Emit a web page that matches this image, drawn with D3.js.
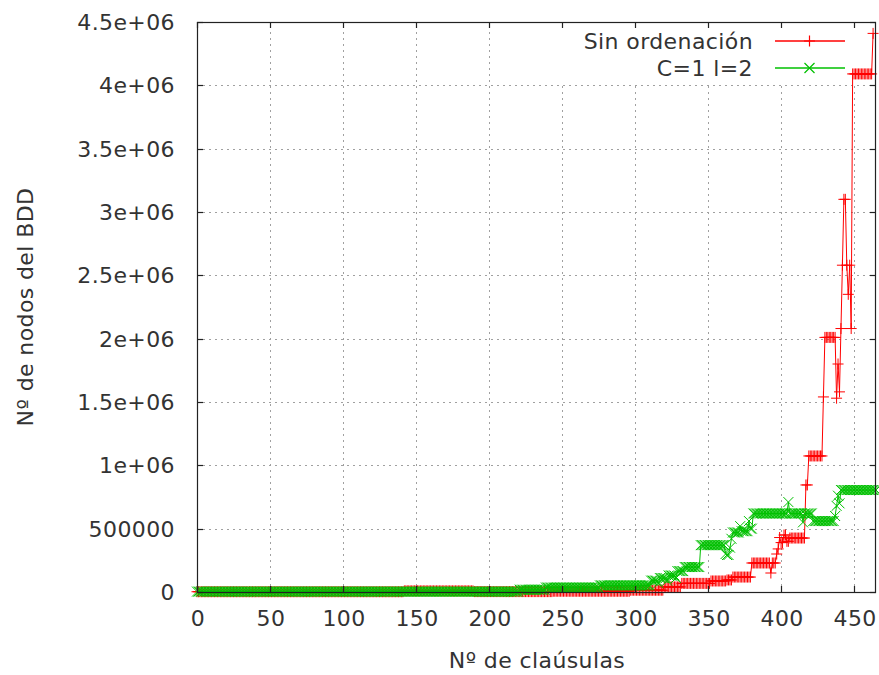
<!DOCTYPE html>
<html>
<head>
<meta charset="utf-8">
<script src="https://cdn.jsdelivr.net/npm/d3@7"></script>
<style>
  body { margin: 0; background: #fff; }
  text { font-family: "DejaVu Sans", sans-serif; fill: #333; letter-spacing: 0.4px; }
</style>
</head>
<body>
<div id="chart"></div>
<script>
let width = 879,
    height = 675,
    margin = ({ top: 22, right: 3, bottom: 83, left: 197 });

// x domain: number of clauses
let xMax = 465;
let xTicks = [0, 50, 100, 150, 200, 250, 300, 350, 400, 450];
let yTicks = [0, 500000, 1000000, 1500000, 2000000, 2500000, 3000000, 3500000, 4000000, 4500000];
let yTickLabels = ["0", "500000", "1e+06", "1.5e+06", "2e+06", "2.5e+06", "3e+06", "3.5e+06", "4e+06", "4.5e+06"];

// runs: [first clause, last clause, BDD nodes]
let redRuns = [
  [0, 141, 2000], [142, 189, 9000], [190, 243, 3000], [244, 296, 6000],
  [297, 319, 14000], [320, 331, 40000], [332, 351, 68000], [352, 362, 87000],
  [363, 366, 95000], [367, 379, 118000], [380, 392, 229000], [393, 393, 150000],
  [394, 396, 229000], [397, 397, 300000], [398, 398, 340000], [399, 399, 430000],
  [400, 401, 390000], [402, 403, 450000], [404, 405, 400000], [406, 416, 426000],
  [417, 418, 845000], [419, 428, 1074000], [429, 429, 1540000], [430, 437, 2010000],
  [438, 438, 1530000], [439, 439, 1800000], [440, 440, 1580000], [441, 441, 2080000],
  [442, 442, 2580000], [443, 444, 3100000], [445, 445, 2580000], [446, 446, 2350000],
  [447, 447, 2580000], [448, 448, 2080000], [449, 462, 4090000], [463, 463, 4410000]
];

let greenRuns = [
  [0, 220, 3000], [221, 238, 18000], [239, 275, 35000], [276, 310, 52000],
  [311, 315, 90000], [316, 316, 70000], [317, 321, 110000], [322, 322, 90000],
  [323, 327, 130000], [328, 328, 110000], [329, 333, 165000], [334, 344, 197000],
  [345, 361, 370000], [362, 362, 300000], [363, 364, 292000], [365, 365, 350000],
  [366, 366, 420000], [367, 371, 470000], [372, 372, 520000], [373, 377, 480000],
  [378, 378, 560000], [379, 380, 500000], [381, 404, 620000], [405, 405, 710000],
  [406, 414, 620000], [415, 415, 550000], [416, 421, 620000], [422, 436, 560000],
  [437, 437, 600000], [438, 438, 680000], [439, 439, 760000], [440, 440, 700000],
  [441, 465, 805000]
];

let seriesNames = ["Sin ordenación", "C=1 l=2"];
let seriesColors = ["#ff0000", "#00c000"];

function expand(runs) {
  let pts = [];
  for (let [a, b, v] of runs) {
    for (let c = a; c <= b; c++) pts.push({ c: c, v: v });
  }
  return pts;
}

let series = [expand(redRuns), expand(greenRuns)];

const svg = d3.select("#chart")
  .append("svg")
  .attr("width", width)
  .attr("height", height);

let x = d3.scaleLinear()
  .domain([0, xMax])
  .range([margin.left, width - margin.right]);

let y = d3.scaleLinear()
  .domain([0, 4500000])
  .range([height - margin.bottom, margin.top]);

let x0 = x.range()[0], x1 = x.range()[1], y0 = y.range()[0], y1 = y.range()[1];
let keyLeft = 552, keyBottom = 82;
let fs = 22;

// grid (gnuplot leaves the key area free)
let grid = svg.append("g")
  .attr("stroke", "#a0a0a0")
  .attr("stroke-dasharray", "2,4")
  .attr("stroke-width", 1);

grid.selectAll("line.gx")
  .data(xTicks.filter(d => d > 0))
  .join("line")
  .attr("x1", d => Math.round(x(d)) + 0.5)
  .attr("x2", d => Math.round(x(d)) + 0.5)
  .attr("y1", y0)
  .attr("y2", d => x(d) > keyLeft ? keyBottom : y1);

grid.selectAll("line.gy")
  .data(yTicks.filter(d => d > 0 && d < 4500000))
  .join("line")
  .attr("x1", x0)
  .attr("x2", x1)
  .attr("y1", d => Math.round(y(d)) + 0.5)
  .attr("y2", d => Math.round(y(d)) + 0.5);

let plusPath = "M-5.5,0H5.5M0,-5.5V5.5";
let crossPath = "M-5,-5L5,5M-5,5L5,-5";
let shapes = [plusPath, crossPath];

let line = d3.line()
  .x(d => x(d.c))
  .y(d => y(d.v));

series.forEach((pts, i) => {
  let g = svg.append("g")
    .attr("class", "series");

  g.append("path")
    .datum(pts)
    .attr("fill", "none")
    .style("stroke", seriesColors[i])
    .attr("stroke-width", 1)
    .attr("d", line);

  g.selectAll("path.mk")
    .data(pts)
    .join("path")
    .attr("class", "mk")
    .attr("transform", d => `translate(${x(d.c)},${y(d.v)})`)
    .attr("d", shapes[i])
    .attr("fill", "none")
    .style("stroke", seriesColors[i])
    .attr("stroke-width", 1);
});

// border and ticks
svg.append("rect")
  .attr("x", x0 + 0.5)
  .attr("y", y1 + 0.5)
  .attr("width", x1 - x0 - 1)
  .attr("height", y0 - y1)
  .attr("fill", "none")
  .attr("stroke", "#222")
  .attr("stroke-width", 1.2);

let ticks = svg.append("g").attr("stroke", "#222").attr("stroke-width", 1.2);
let tl = 6;

ticks.selectAll("line.xb")
  .data(xTicks)
  .join("line")
  .attr("x1", d => Math.round(x(d)) + 0.5).attr("x2", d => Math.round(x(d)) + 0.5)
  .attr("y1", y0).attr("y2", y0 - tl);

ticks.selectAll("line.xt")
  .data(xTicks)
  .join("line")
  .attr("x1", d => Math.round(x(d)) + 0.5).attr("x2", d => Math.round(x(d)) + 0.5)
  .attr("y1", y1).attr("y2", y1 + tl);

ticks.selectAll("line.yl")
  .data(yTicks)
  .join("line")
  .attr("x1", x0).attr("x2", x0 + tl)
  .attr("y1", d => Math.round(y(d)) + 0.5).attr("y2", d => Math.round(y(d)) + 0.5);

ticks.selectAll("line.yr")
  .data(yTicks)
  .join("line")
  .attr("x1", x1).attr("x2", x1 - tl)
  .attr("y1", d => Math.round(y(d)) + 0.5).attr("y2", d => Math.round(y(d)) + 0.5);

// tick labels
svg.append("g")
  .selectAll("text")
  .data(xTicks)
  .join("text")
  .attr("x", d => x(d) + 1)
  .attr("y", y0 + 34)
  .attr("text-anchor", "middle")
  .attr("font-size", fs)
  .text(d => d);

svg.append("g")
  .selectAll("text")
  .data(yTicks)
  .join("text")
  .attr("x", x0 - 22)
  .attr("y", d => y(d))
  .attr("dy", "0.36em")
  .attr("text-anchor", "end")
  .attr("font-size", fs)
  .text((d, i) => yTickLabels[i]);

// axis titles
svg.append("text")
  .attr("x", 537)
  .attr("y", 668)
  .attr("text-anchor", "middle")
  .attr("font-size", fs)
  .text("Nº de claúsulas");

svg.append("text")
  .attr("transform", "translate(33,307) rotate(-90)")
  .attr("text-anchor", "middle")
  .attr("font-size", fs)
  .text("Nº de nodos del BDD");

// legend
let legendY = [41, 68];
seriesNames.forEach((name, i) => {
  let g = svg.append("g").attr("class", "key");
  g.append("text")
    .attr("x", 753)
    .attr("y", legendY[i])
    .attr("dy", "0.36em")
    .attr("text-anchor", "end")
    .attr("font-size", fs)
    .text(name);
  g.append("line")
    .attr("x1", 775).attr("x2", 845)
    .attr("y1", legendY[i]).attr("y2", legendY[i])
    .style("stroke", seriesColors[i])
    .attr("stroke-width", 1.4);
  g.append("path")
    .attr("transform", `translate(809.5,${legendY[i]})`)
    .attr("d", shapes[i])
    .attr("fill", "none")
    .style("stroke", seriesColors[i])
    .attr("stroke-width", 1.2);
});
</script>
</body>
</html>
